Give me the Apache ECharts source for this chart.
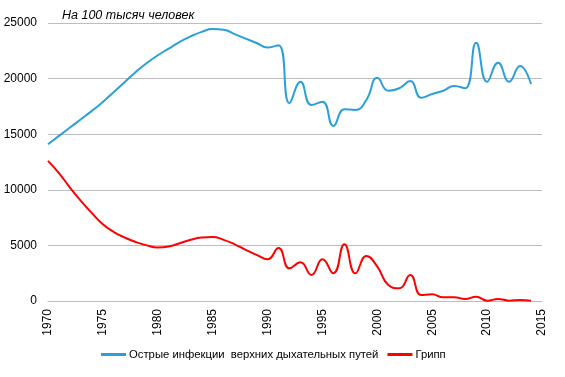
<!DOCTYPE html>
<html>
<head>
<meta charset="utf-8">
<script src="https://cdn.jsdelivr.net/npm/echarts@6/dist/echarts.min.js"></script>
<style>
  html, body { margin: 0; padding: 0; background: #fff; }
  #chart { width: 565px; height: 377px; }
</style>
</head>
<body>
<div id="chart"></div>
<script>
// годы
var years = [1970, 1971, 1972, 1973, 1974, 1975, 1976, 1977, 1978, 1979,
  1980, 1981, 1982, 1983, 1984, 1985, 1986, 1987, 1988, 1989,
  1990, 1991, 1992, 1993, 1994, 1995, 1996, 1997, 1998, 1999,
  2000, 2001, 2002, 2003, 2004, 2005, 2006, 2007, 2008, 2009,
  2010, 2011, 2012, 2013, 2014];
// ОРВИ на 100 тыс.
var orviValues = [14100, 14850, 15600, 16350, 17100, 17900, 18800, 19700, 20600, 21400,
  22100, 22700, 23300, 23800, 24200, 24450, 24400, 24000, 23600, 23200,
  22800, 23000, 17800, 19720, 17630, 17920, 15740, 17240, 17180, 18080,
  20080, 18910, 19130, 19780, 18280, 18620, 18910, 19330, 19130, 23230,
  19720, 21430, 19720, 21130, 19510];
// грипп на 100 тыс.
var fluValues = [12600, 11500, 10200, 9000, 7900, 6900, 6200, 5700, 5300, 5000,
  4800, 4900, 5200, 5500, 5700, 5750, 5500, 5100, 4600, 4150,
  3750, 4760, 2940, 3480, 2340, 3750, 2490, 5100, 2490, 4050,
  3090, 1440, 1140, 2340, 540, 600, 330, 330, 180, 390,
  30, 180, 30, 90, 20];
var seriesNames = ["Острые инфекции  верхних дыхательных путей", "Грипп"];

function pairs(vals) {
  return years.map(function (y, i) { return [y, vals[i]]; });
}

var myChart = echarts.init(document.getElementById("chart"));
var option = {
  animation: false,
  textStyle: { fontFamily: "Liberation Sans, Arial, sans-serif" },
  title: {
    text: "На 100 тысяч человек",
    left: 62,
    top: 9,
    padding: 0,
    textStyle: { fontSize: 12.5, fontStyle: "italic", fontWeight: "normal", color: "#000" }
  },
  grid: { left: 48, right: 23, top: 23, bottom: 76 },
  legend: {
    top: 349,
    left: 101,
    padding: 0,
    itemWidth: 25,
    itemHeight: 3,
    itemGap: 9,
    textStyle: { fontSize: 11.3, color: "#000", padding: [0, 0, 0, -2] },
    data: [
      { name: seriesNames[0], icon: "rect" },
      { name: seriesNames[1], icon: "rect" }
    ]
  },
  xAxis: {
    type: "value",
    min: 1970,
    max: 2015,
    interval: 5,
    axisLine: { show: true, lineStyle: { color: "#bdbdbd" } },
    axisTick: { show: false },
    splitLine: { show: false },
    axisLabel: { rotate: 90, color: "#000", fontSize: 12, margin: 8,
      formatter: function (v) { return String(v); } }
  },
  yAxis: {
    type: "value",
    min: 0,
    max: 25000,
    interval: 5000,
    axisLine: { show: false },
    axisTick: { show: false },
    splitLine: { lineStyle: { color: "#bdbdbd" } },
    axisLabel: { color: "#000", fontSize: 12, margin: 11,
      formatter: function (v) { return String(v); } }
  },
  series: [
    {
      name: seriesNames[0],
      type: "line",
      smooth: 0.5,
      symbol: "none",
      lineStyle: { width: 2, color: "#2a9fd8" },
      itemStyle: { color: "#2a9fd8" },
      data: pairs(orviValues)
    },
    {
      name: seriesNames[1],
      type: "line",
      smooth: 0.5,
      symbol: "none",
      lineStyle: { width: 2, color: "#ff0000" },
      itemStyle: { color: "#ff0000" },
      data: pairs(fluValues)
    }
  ]
};
option && myChart.setOption(option);
</script>
</body>
</html>
